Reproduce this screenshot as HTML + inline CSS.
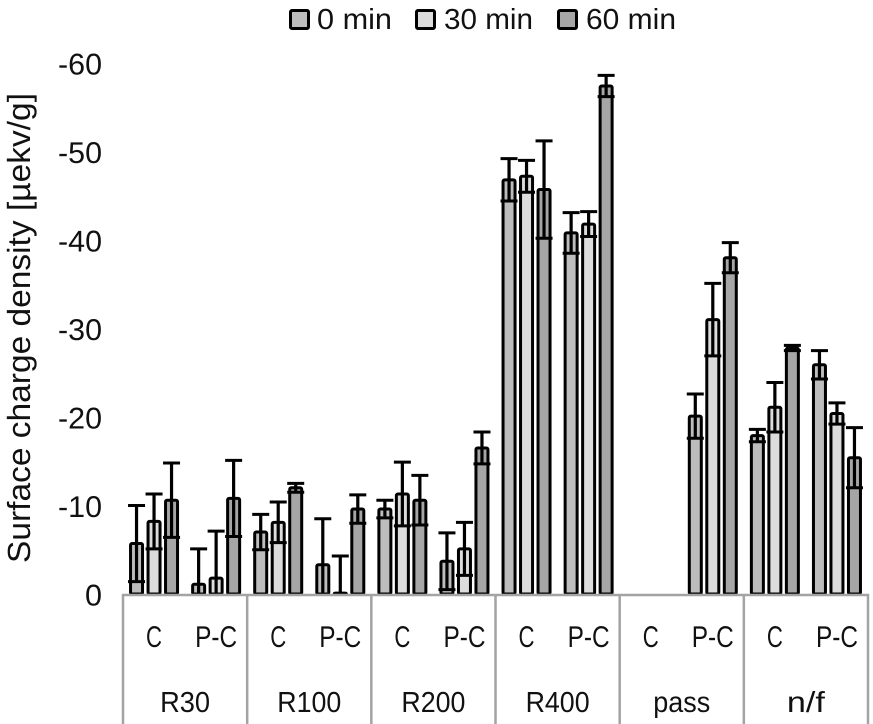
<!DOCTYPE html>
<html>
<head>
<meta charset="utf-8">
<style>
html,body{margin:0;padding:0;background:#fff;width:873px;height:724px;overflow:hidden}
svg{display:block}
text{font-family:"Liberation Sans",sans-serif;fill:#111;text-rendering:geometricPrecision}
</style>
</head>
<body>
<svg id="chart" width="873" height="724" viewBox="0 0 873 724" xmlns="http://www.w3.org/2000/svg"></svg>
<script>
var groupLabels = ['R30','R100','R200','R400','pass','n/f'];
var subLabels = ['C','P-C'];
var seriesNames = ['0 min','30 min','60 min'];
var seriesColors = ['#bdbdbd','#dcdcdc','#a6a6a6'];
var yTicks = [0,-10,-20,-30,-40,-50,-60];
var yTickLabels = ['0','-10','-20','-30','-40','-50','-60'];

// Order: R30 C, R30 P-C, R100 C, R100 P-C, ... n/f C, n/f P-C
var values0 = [-5.7,-1.1,-7.0,-3.3,-9.6,-3.7,-46.8,-40.8,null,-20.1,-17.9,-25.9];
var values30 = [-8.2,-1.8,-8.1,-0.1,-11.3,-5.1,-47.2,-41.8,null,-31.0,-21.1,-20.4];
var values60 = [-10.6,-10.8,-12.0,-9.6,-10.6,-16.5,-45.7,-57.4,null,-38.0,-27.8,-15.4];
var errors0 = [4.3,4.0,2.0,5.2,1.0,3.2,2.4,2.3,null,2.5,0.7,1.6];
var errors30 = [3.1,5.3,2.3,4.2,3.6,3.0,1.8,1.4,null,4.1,2.8,1.2];
var errors60 = [4.2,4.3,0.5,1.6,2.8,1.8,5.5,1.2,null,1.7,0.3,3.4];

var allValues = [values0, values30, values60];
var allErrors = [errors0, errors30, errors60];

var svg = document.getElementById('chart');
var NS = 'http://www.w3.org/2000/svg';
var plotLeft = 123, plotRight = 868, y0 = 594, pxPerUnit = 8.85;
var subW = (plotRight - plotLeft) / (groupLabels.length * subLabels.length);
var barPitch = 17.5, barW = 12;

function yScale(v){ return y0 + v * pxPerUnit; }
function subCenter(i){ return plotLeft + subW * (i + 0.5); }
function make(tag, attrs, parent){
  var el = document.createElementNS(NS, tag);
  for (var k in attrs) el.setAttribute(k, attrs[k]);
  (parent || svg).appendChild(el);
  return el;
}
function label(str, x, y, size, w, parent){
  var t = make('text', {x:x, y:y, 'font-size':size, 'text-anchor':'middle', textLength:w, lengthAdjust:'spacingAndGlyphs'}, parent);
  t.textContent = str;
  return t;
}

// y tick labels
yTicks.forEach(function(v, i){
  var s = yTickLabels[i];
  var w = s.length === 1 ? 17 : 44;
  var el = label(s, 102 - w / 2, yScale(v) + 11.5, 30, w);
  
  
});

// y axis title
var yTitle = make('text', {transform:'translate(30,328) rotate(-90)', x:0, y:0, 'font-size':32, 'text-anchor':'middle', textLength:470, lengthAdjust:'spacingAndGlyphs'});
yTitle.textContent = 'Surface charge density [\u00b5ekv/g]';



// bars and error bars
allValues.forEach(function(vals, s){
  vals.forEach(function(v, i){
    if (v === null) return;
    var cx = subCenter(i) + (s - 1) * barPitch;
    var yt = yScale(v);
    var bar = make('rect', {x:cx - barW / 2, y:yt, width:barW, height:y0 - yt, fill:seriesColors[s], stroke:'#000', 'stroke-width':3, rx:1.5});
    
    
    var e = allErrors[s][i];
    var top = yScale(v - e);
    var low = Math.min(yScale(v + e), y0);
    var stem = make('line', {x1:cx, x2:cx, y1:top, y2:low, stroke:'#000', 'stroke-width':3.2});
    
    
    var capTop = make('line', {x1:cx - 8.5, x2:cx + 8.5, y1:top, y2:top, stroke:'#000', 'stroke-width':3});
    
    
    if (v + e < 0) {
      var capLow = make('line', {x1:cx - 8.5, x2:cx + 8.5, y1:low, y2:low, stroke:'#000', 'stroke-width':3});
      
      
    }
  });
});

// category axis
var axis = make('line', {x1:plotLeft - 1, x2:plotRight + 1, y1:y0 + 1, y2:y0 + 1, stroke:'#a3a3a3', 'stroke-width':2.5});


groupLabels.forEach(function(g, i){
  var gw = subW * subLabels.length;
  var x = plotLeft + gw * i;
  var sep = make('line', {x1:x, x2:x, y1:y0, y2:724, stroke:'#a3a3a3', 'stroke-width':2.5});
  
  
  var widths = {'R30':50,'R100':64,'R200':64,'R400':64,'pass':57,'n/f':38};
  var gl = label(g, x + gw / 2, 712, 29, widths[g]);
  
  
  subLabels.forEach(function(sl, j){
    var c = subCenter(i * subLabels.length + j);
    var tl = label(sl, c, 647, 30, sl === 'C' ? 16 : 42);
    
    
  });
});
var endLine = make('line', {x1:plotRight, x2:plotRight, y1:y0, y2:724, stroke:'#a3a3a3', 'stroke-width':2.5});



// legend
var legendSwatchX = [289, 415, 557];
var legendTextX = [317, 444, 586];
var legendTextW = [75, 89, 90];
seriesNames.forEach(function(n, i){
  var sw = make('rect', {x:legendSwatchX[i] + 1.5, y:10.5, width:18, height:18, rx:1.5, fill:seriesColors[i], stroke:'#000', 'stroke-width':3});
  
  
  var t = make('text', {x:legendTextX[i], y:29, 'font-size':29, textLength:legendTextW[i], lengthAdjust:'spacingAndGlyphs'});
  t.textContent = n;
  
  
});
</script>
</body>
</html>
